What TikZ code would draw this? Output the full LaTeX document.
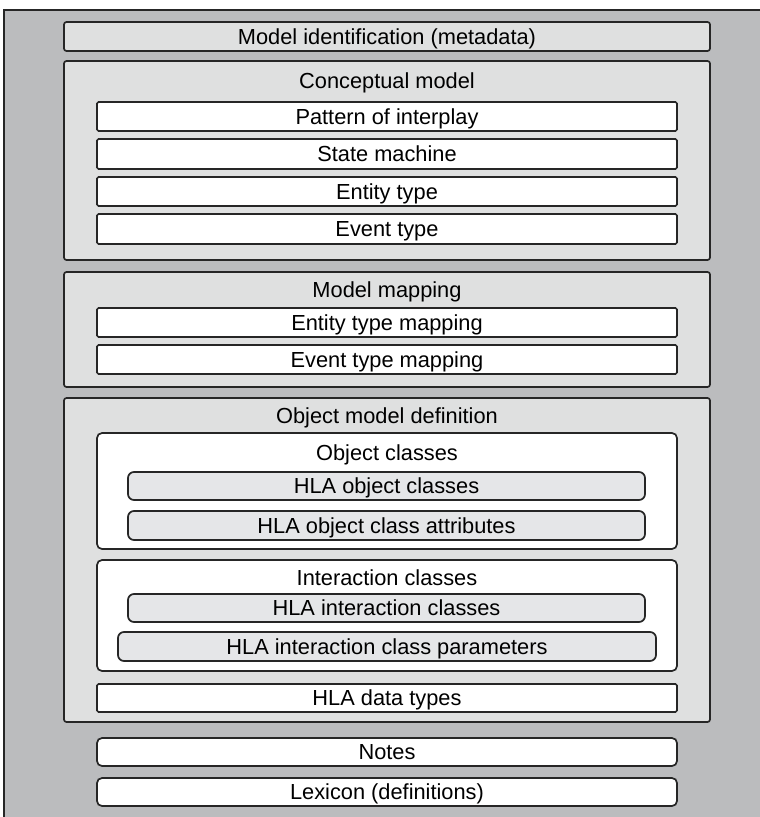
\documentclass[tikz,border=0pt]{standalone}
\usepackage{fontspec}
\setmainfont{Liberation Sans}
\definecolor{frameGray}{HTML}{BBBCBE}
\definecolor{panelGray}{HTML}{DFE0E0}
\definecolor{hlaGray}{HTML}{E5E6E8}
\tikzset{
  every node/.style={font=\fontsize{21.8}{26}\selectfont, inner sep=0pt,
    text height=15.6pt, text depth=0pt},
  boxline/.style={draw=black!85, line width=1.7pt},
  panel/.style={boxline, fill=panelGray, rounded corners=2.5pt},
  plainbox/.style={boxline, fill=white, rounded corners=1.5pt},
  groupbox/.style={boxline, fill=white, rounded corners=5pt},
  hlabox/.style={boxline, fill=hlaGray, rounded corners=6pt},
  title/.style={anchor=center}
}

\begin{document}
\begin{tikzpicture}[x=1pt,y=-1pt]
\useasboundingbox (0,0) rectangle (760,817);
% outer frame, runs off the right and bottom
\draw[fill=frameGray, line width=1.7pt, draw=black!85] (4,10) rectangle (775,835);

\node[panel, minimum width=646, minimum height=29] (modelid) at (387,36.5) {Model identification (metadata)};

% conceptual model
\node[panel, minimum width=646, minimum height=199] (concept) at (387,160.5) {};
\node[title] (concepttitle) at (387,81) {Conceptual model};
\node[plainbox, minimum width=580, minimum height=29] (interplay) at (387,116.5) {Pattern of interplay};
\node[plainbox, minimum width=580, minimum height=30] (statemach) at (387,154) {State machine};
\node[plainbox, minimum width=580, minimum height=29] (entity) at (387,191.5) {Entity type};
\node[plainbox, minimum width=580, minimum height=30] (event) at (387,229) {Event type};

% model mapping
\node[panel, minimum width=646, minimum height=115] (mapping) at (387,329.5) {};
\node[title] (mappingtitle) at (387,290) {Model mapping};
\node[plainbox, minimum width=580, minimum height=29] (entmap) at (387,322.5) {Entity type mapping};
\node[plainbox, minimum width=580, minimum height=29] (evmap) at (387,359.5) {Event type mapping};

% object model definition
\node[panel, minimum width=646, minimum height=324] (omd) at (387,560) {};
\node[title] (omdtitle) at (387,416) {Object model definition};

\node[groupbox, minimum width=580, minimum height=116] (objcls) at (387,491) {};
\node[title] (objclstitle) at (387,453) {Object classes};
\node[hlabox, minimum width=517, minimum height=28] (hlaobj) at (386.5,486) {HLA object classes};
\node[hlabox, minimum width=517, minimum height=29] (hlaattr) at (386.5,525.5) {HLA object class attributes};

\node[groupbox, minimum width=580, minimum height=111] (intcls) at (387,615.5) {};
\node[title] (intclstitle) at (387,578) {Interaction classes};
\node[hlabox, minimum width=517, minimum height=28] (hlaint) at (386.5,608) {HLA interaction classes};
\node[hlabox, minimum width=538, minimum height=29] (hlaparam) at (387,646.5) {HLA interaction class parameters};

\node[plainbox, minimum width=580, minimum height=28] (datatypes) at (387,698) {HLA data types};

% trailing sections
\node[groupbox, minimum width=580, minimum height=28] (notes) at (387,752) {Notes};
\node[groupbox, minimum width=580, minimum height=28] (lexicon) at (387,792) {Lexicon (definitions)};
\end{tikzpicture}
\end{document}
